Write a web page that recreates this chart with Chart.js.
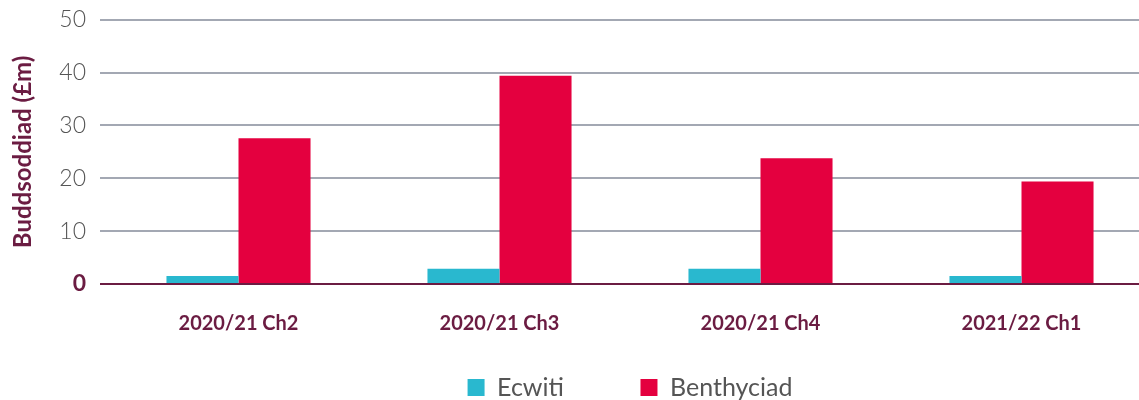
<!DOCTYPE html>
<html lang="cy">
<head>
<meta charset="UTF-8">
<title>Buddsoddiad</title>
<script src="https://cdn.jsdelivr.net/npm/chart.js@4"></script>
<style>
  body { margin: 0; overflow: hidden; background: #fff; }
  #chart { margin-top: -8px; display: block; }
</style>
</head>
<body>
<canvas id="chart" width="1152" height="418"></canvas>
<script>
// data
var categories = ['2020/21 Ch2', '2020/21 Ch3', '2020/21 Ch4', '2021/22 Ch1'];
var ecwiti = [1.5, 2.9, 2.9, 1.5];
var benthyciad = [27.6, 39.4, 23.8, 19.4];
var yTicks = [0, 10, 20, 30, 40, 50];

var purple = '#6b1c42';
var grey = '#a3a8b3';

var ctx = document.getElementById('chart').getContext('2d');
var chart = new Chart(ctx, {
    type: 'bar',
    data: {
        labels: categories,
        datasets: [{
            label: 'Ecwiti',
            data: ecwiti,
            backgroundColor: '#29b8cf'
        }, {
            label: 'Benthyciad',
            data: benthyciad,
            backgroundColor: '#e4003f'
        }]
    },
    options: {
        responsive: false,
        animation: false,
        categoryPercentage: 0.552,
        barPercentage: 1.0,
        layout: { padding: { top: 0, right: 0, bottom: 0, left: 0 } },
        plugins: {
            tooltip: { enabled: false },
            legend: {
                position: 'bottom',
                fullSize: false,
                labels: {
                    font: { family: 'Lato', size: 25 },
                    color: '#555',
                    boxWidth: 17,
                    boxHeight: 17,
                    padding: 19,
                    generateLabels: function(ch) {
                        var items = Chart.defaults.plugins.legend.labels.generateLabels(ch);
                        // widen the gap after the first entry
                        items[0].text = items[0].text + '         ';
                        return items;
                    }
                }
            }
        },
        scales: {
            x: {
                grid: { display: false },
                border: { display: false },
                ticks: {
                    padding: 20,
                    color: purple,
                    font: { family: 'Lato', size: 20, weight: 'bold' }
                }
            },
            y: {
                min: 0,
                max: 50,
                afterFit: function(scale) { scale.width = 108; },
                afterBuildTicks: function(scale) {
                    scale.ticks = yTicks.map(function(v) { return { value: v }; });
                },
                border: { display: false },
                grid: {
                    drawTicks: true,
                    tickLength: 8,
                    lineWidth: 2,
                    color: function(c) { return c.tick && c.tick.value === 0 ? purple : grey; }
                },
                ticks: {
                    padding: 14,
                    color: function(c) { return c.tick && c.tick.value === 0 ? purple : '#555'; },
                    font: function(c) {
                        if (c.tick && c.tick.value === 0) return { family: 'Lato', size: 23, weight: 'bold' };
                        return { family: 'Lato', size: 23, weight: '300' };
                    }
                },
                title: {
                    display: true,
                    text: 'Buddsoddiad (£m)',
                    color: purple,
                    padding: { top: 9, bottom: 0 },
                    font: { family: 'Lato', size: 24, weight: 'bold' }
                }
            }
        }
    }
});
</script>
</body>
</html>
